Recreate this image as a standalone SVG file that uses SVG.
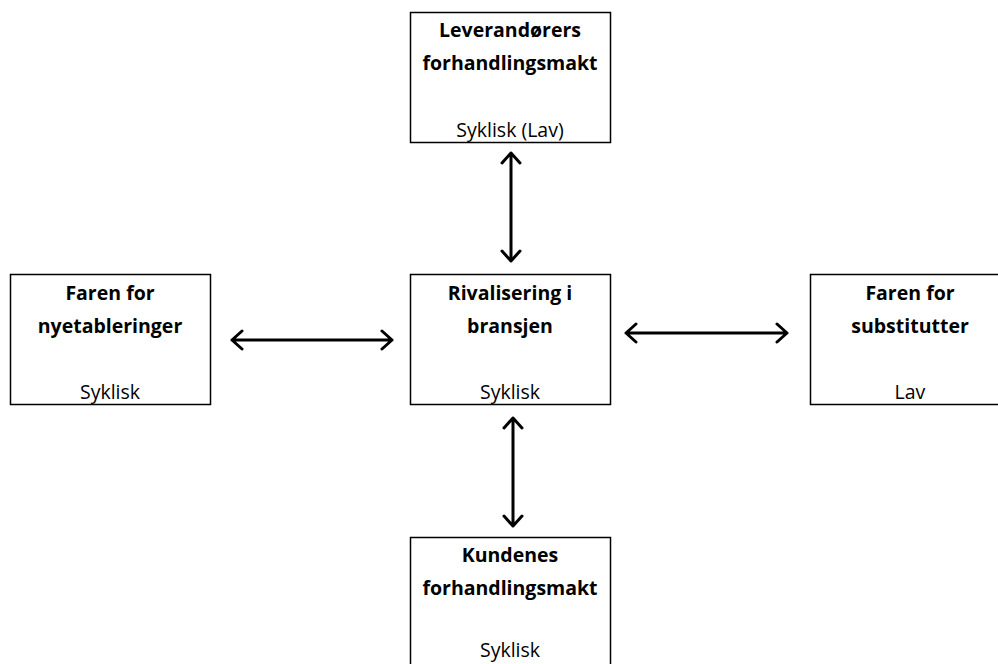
<svg xmlns="http://www.w3.org/2000/svg" width="998" height="664" viewBox="0 0 998 664">
<style>
.box{fill:#fff;stroke:#000;stroke-width:1.5}
.t{font-family:"Open Sans","Liberation Sans",sans-serif;font-size:19.5px;font-weight:bold;text-anchor:middle;fill:#000}
.s{font-family:"Open Sans","Liberation Sans",sans-serif;font-size:19.5px;text-anchor:middle;fill:#000}
.c{stroke:#000;stroke-width:3;fill:none;stroke-linecap:round;stroke-linejoin:round}
</style>
<rect width="998" height="664" fill="#fff"/>
<g id="connectors">
<path class="c" d="M232 340H392M242 331L232 340L242 349M382 331L392 340L382 349"/>
<path class="c" d="M626 333H787M636 324L626 333L636 342M777 324L787 333L777 342"/>
<path class="c" d="M511 153V261M502 163L511 153L520 163M502 251L511 261L520 251"/>
<path class="c" d="M513 418V526M504 428L513 418L522 428M504 516L513 526L522 516"/>
</g>
<g id="top">
<rect class="box" x="410.5" y="12.5" width="200" height="130"/>
<text class="t" x="510" y="37">Leverandørers</text>
<text class="t" x="510" y="70">forhandlingsmakt</text>
<text class="s" x="510" y="137">Syklisk (Lav)</text>
</g>
<g id="left">
<rect class="box" x="10.5" y="274.5" width="200" height="130"/>
<text class="t" x="110" y="300">Faren for</text>
<text class="t" x="110" y="333">nyetableringer</text>
<text class="s" x="110" y="399">Syklisk</text>
</g>
<g id="center">
<rect class="box" x="410.5" y="274.5" width="200" height="130"/>
<text class="t" x="510" y="300">Rivalisering i</text>
<text class="t" x="510" y="333">bransjen</text>
<text class="s" x="510" y="399">Syklisk</text>
</g>
<g id="right">
<rect class="box" x="810.5" y="274.5" width="200" height="130"/>
<text class="t" x="910" y="300">Faren for</text>
<text class="t" x="910" y="333">substitutter</text>
<text class="s" x="910" y="399">Lav</text>
</g>
<g id="bottom">
<rect class="box" x="410.5" y="537.5" width="200" height="140"/>
<text class="t" x="510" y="562">Kundenes</text>
<text class="t" x="510" y="595">forhandlingsmakt</text>
<text class="s" x="510" y="657">Syklisk</text>
</g>
</svg>
